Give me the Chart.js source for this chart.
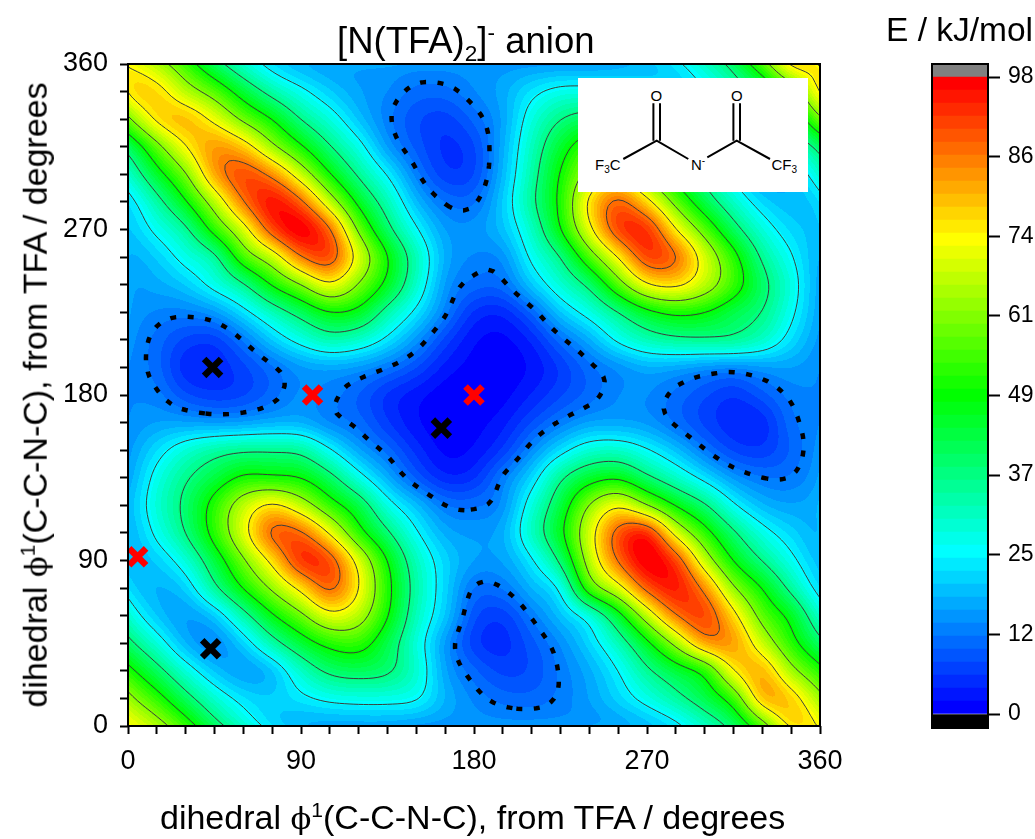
<!DOCTYPE html>
<html>
<head>
<meta charset="utf-8">
<title>[N(TFA)2]- anion</title>
<script src="https://cdn.jsdelivr.net/npm/chart.js@4"></script>
<style>
	html,body{margin:0;padding:0;background:#fff;}
	#page{position:relative;width:1035px;height:839px;overflow:hidden;font-family:"Liberation Sans",Arial,sans-serif;color:#000;}
	#main-wrap{position:absolute;left:0;top:0;width:880px;height:839px;}
	#bar-wrap{position:absolute;left:880px;top:0;width:155px;height:839px;}
	.label{position:absolute;white-space:nowrap;line-height:1;}
	.label sub,.label sup{font-size:0.62em;line-height:0;}
	.phi{font-family:"DejaVu Serif",serif;font-size:0.9em;}
	#title{left:337px;top:23px;font-size:36.5px;}
	#x-title{left:160px;top:800px;font-size:34px;}
	#y-title{left:35px;top:395px;font-size:34px;transform:translate(-50%,-50%) rotate(-90deg);}
	#bar-title{left:886px;top:13px;font-size:33.5px;}
	#inset{position:absolute;left:578px;top:78px;}
</style>
</head>
<body>
<div id="page">
	<div id="main-wrap"><canvas id="field"></canvas></div>
	<div id="bar-wrap"><canvas id="scale-bar"></canvas></div>
	<div class="label" id="title">[N(TFA)<sub>2</sub>]<sup>-</sup> anion</div>
	<div class="label" id="x-title">dihedral <span class="phi">&#981;</span><sup>1</sup>(C-C-N-C), from TFA / degrees</div>
	<div class="label" id="y-title">dihedral <span class="phi">&#981;</span><sup>1</sup>(C-C-N-C), from TFA / degrees</div>
	<div class="label" id="bar-title">E / kJ/mol</div>
	<svg id="inset" width="230" height="114" font-family="Liberation Sans, Arial, sans-serif" font-size="15">
		<rect width="230" height="114" fill="#fff"/>
		<g stroke="#000" stroke-width="2" fill="none">
			<path d="M45.3 81L78.7 62.7L110.3 81M129.3 79.3L158.7 62.7L192 81"/>
			<path d="M75.4 62.7V25.3M82 62.7V25.3M155.4 62.7V25.3M162 62.7V25.3"/>
		</g>
		<text x="72.5" y="22.5">O</text>
		<text x="153" y="22.5">O</text>
		<text x="17" y="92">F<tspan font-size="10" dy="3">3</tspan><tspan dy="-3">C</tspan></text>
		<text x="113" y="92">N<tspan font-size="10" dy="-6">-</tspan></text>
		<text x="193.5" y="92">CF<tspan font-size="10" dy="3">3</tspan></text>
	</svg>
</div>

<script>
//axis values
const phiValues = [0,15,30,45,60,75,90,105,120,135,150,165,180,195,210,225,240,255,270,285,300,315,330,345,360];
const phiLabels = [0,90,180,270,360];

//energies, one array per row of phi (y), along phi (x) from 0 to 360
const e360 = [76,69,55,42,31,22,18,16,15,15,15,14,15,15,15,15,15,16,18,22,30,40,55,78,76];
const e345 = [77,78,66,57,44,33,26,20,16,14,11,11,14,17,23,27,27,26,23,20,23,31,39,53,77];
const e330 = [60,77,81,72,59,49,36,28,19,12.5,8,6.5,10.5,16,28,37,41,39,30,18,15,18,27,39,60];
const e315 = [39,58,74,84,79,63,50,37,27,15,9,5,7,17,31,45,56,54,45,33,20,13,17,28,39];
const e300 = [29,45,60,83,92,85,68,49,35,24,12.5,6,7,18,33,50,65,72,58,44,33,22,15,18,29];
const e285 = [21,33,48,66,87,98,89,67,46,32,18,11.5,11,20,35,51,77,90,77,58,42,30,21,18,21];
const e270 = [19,26,34,53,69,92,101,89,59,39,25,15.5,15,19,30,49,72,93,95,74,57,40,28,21,19];
const e255 = [17,20,27,33,56,67,87,93,71,50,32,17,13.5,14,26,36,56,74,93,89,70,53,35,25,17];
const e240 = [16,17,20,27,35,50,61,74,61,47,30,15,11,11,20,29,38,57,74,77,68,55,40,28,16];
const e225 = [16,13.5,13,15,22,31,40,49,47,33,23,13,5,4,10,20,27,36,46,51,49,42,37,26,16];
const e210 = [15,11,7,6,12,20,27,33,30,23,15,7,2,1,4,11,17,26,32,35,36,36,31,22,15];
const e195 = [14,11,4,4,7,11,15,16,15,12,8,3,1,0.5,2,6,11,14,17,16,14,13,15,16,14];
const e180 = [14,13,8,6,7,10.5,14.5,13,9.5,5,2.5,0.5,0.3,1,4,7.5,10.5,14,14,11,8,5.5,9,13,14];
const e165 = [14,16,16,15,15.5,17,17,13,11,6,2,0.5,1,3,8,12.5,16,16,15,11,7,4,4,11.5,14];
const e150 = [15,22,29,34,36,36,35,25,16,11,5,1,2,6,14,22,29,30,25,19,12,7,6,10,15];
const e135 = [16,27,36,43,51,50,49,40,27,17,9,4,5,13,21,36,45,48,38,30,22,15,12,12,16];
const e120 = [18,29,39,53,68,77,67,53,43,27,19,12,11.5,14,28,43,63,74,61,48,38,25,18,16,18];
const e105 = [17,26,37,53,71,90,89,73,52,38,25,17,15.5,17,31,47,70,91,97,70,53,38,27,21,17];
const e90 = [18,20,28,43,60,76,95,92,71,49,31,21,16,16,23,38,67,88,101,93,67,48,36,26,18];
const e75 = [21,17,20,35,50,63,76,90,75,52,33,21,11,12,18,24,57,70,90,97,85,62,49,34,22];
const e60 = [29,19,15,19,33,48,59,72,67,50,31,20,8,6,12.5,19,26,44,67,87,93,77,57,47,29];
const e45 = [39,28,17,13,20,33,44,52,54,42,28,15,6,4.5,9,14,21,31,46,64,84,84,68,52,38];
const e30 = [52,40,28,19,15,18,30,39,41,39,30,16,10.5,7,8,12.5,17,24,35,43,50,75,82,64,52];
const e15 = [64,53,40,29,22,20,23,26,27,27,26,18,13.5,11,10.5,12.5,16,21,27,34,42,53,82,79,64];
const e0 = [74,66,54,40,29,21,17,16,16,16,15,15,15,15,15,15,15,16,18,22,30,39,56,78,74];
const energyRows = [e0,e15,e30,e45,e60,e75,e90,e105,e120,e135,e150,e165,e180,e195,e210,e225,e240,e255,e270,e285,e300,e315,e330,e345,e360];

//minima and transition points marked on the map
const blackCrossX = [44,163,43];
const blackCrossY = [195,162,42];
const redCrossX = [96,180,5];
const redCrossY = [180,180,92];

//contour levels and colour scale
const solidLevels = [24.5,36.75,49,61.25,73.5,85.75];
const dashedLevels = [12.25];
const scaleTicks = [0,12.25,24.5,36.75,49,61.25,73.5,85.75,98];
const bandWidth = 2;
const bandCount = 49;

//blue-cyan-green-yellow-red, t goes from 0 to 1
function rampColor(t){
	const stops = [[0,0,255],[0,255,255],[0,255,0],[255,255,0],[255,0,0]];
	const p = Math.min(t,1)*4;
	const i = Math.min(Math.floor(p),3);
	const f = p-i;
	return stops[i].map(function(c,k){
		return Math.round(c+(stops[i+1][k]-c)*f);
	});
}
const bandColors = [];
for(let i=0 ; i<bandCount ; i++){
	bandColors.push(rampColor(i/(bandCount-1)));
}

//smooth reading of the energy table between its nodes, the map wraps at 360
//half catmull-rom, half b-spline, the table is read by eye so the pure curve wobbles
function weights(t){
	const t2 = t*t, t3 = t2*t;
	const cr = [0.5*(-t+2*t2-t3),0.5*(2-5*t2+3*t3),0.5*(t+4*t2-3*t3),0.5*(t3-t2)];
	const bs = [(1-3*t+3*t2-t3)/6,(4-6*t2+3*t3)/6,(1+3*t+3*t2-3*t3)/6,t3/6];
	return cr.map(function(c,i){
		return 0.5*c+0.5*bs[i];
	});
}
function energyAt(phiX,phiY){
	const step = phiValues[1]-phiValues[0];
	const n = phiValues.length-1;
	const gx = phiX/step, gy = phiY/step;
	const ix = Math.min(Math.floor(gx),n-1), iy = Math.min(Math.floor(gy),n-1);
	const wx = weights(gx-ix), wy = weights(gy-iy);
	let sum = 0;
	for(let r=0 ; r<4 ; r++){
		const row = energyRows[(iy+r-1+n)%n];
		for(let c=0 ; c<4 ; c++){
			sum += wy[r]*wx[c]*row[(ix+c-1+n)%n];
		}
	}
	return sum;
}

//walks one level over a fine mesh and joins the crossings into polylines
function traceLevel(level,meshStep){
	const m = Math.round(360/meshStep);
	const vals = [];
	for(let j=0 ; j<=m ; j++){
		vals.push([]);
		for(let i=0 ; i<=m ; i++){
			vals[j].push(energyAt(i*meshStep,j*meshStep));
		}
	}
	const points = {};
	const links = {};
	function crossing(i,j,horizontal){
		const key = (horizontal?'h':'v')+i+'_'+j;
		if(!points[key]){
			const a = vals[j][i];
			const b = horizontal ? vals[j][i+1] : vals[j+1][i];
			const f = (level-a)/(b-a);
			points[key] = horizontal ? [(i+f)*meshStep,j*meshStep] : [i*meshStep,(j+f)*meshStep];
			links[key] = [];
		}
		return key;
	}
	for(let j=0 ; j<m ; j++){
		for(let i=0 ; i<m ; i++){
			const hits = [];
			if((vals[j][i]<level)!=(vals[j][i+1]<level)) hits.push(crossing(i,j,true));
			if((vals[j][i+1]<level)!=(vals[j+1][i+1]<level)) hits.push(crossing(i+1,j,false));
			if((vals[j+1][i]<level)!=(vals[j+1][i+1]<level)) hits.push(crossing(i,j+1,true));
			if((vals[j][i]<level)!=(vals[j+1][i]<level)) hits.push(crossing(i,j,false));
			for(let k=0 ; k+1<hits.length ; k+=2){
				links[hits[k]].push(hits[k+1]);
				links[hits[k+1]].push(hits[k]);
			}
		}
	}
	const used = {};
	const lines = [];
	//open ends first so a line that leaves the map stays in one piece
	const keys = Object.keys(links).sort(function(a,b){return links[a].length-links[b].length;});
	keys.forEach(function(start){
		if(used[start]) return;
		const line = [];
		let cur = start, last = start;
		while(cur){
			used[cur] = true;
			line.push(points[cur]);
			last = cur;
			cur = links[cur].find(function(k){return !used[k];});
		}
		//closes the loop
		if(line.length>2 && links[last].indexOf(start)>-1){
			line.push(points[start]);
		}
		lines.push(line);
	});
	return lines;
}

function strokeLines(ctx,chart,lines){
	const sx = chart.scales.x, sy = chart.scales.y;
	lines.forEach(function(line){
		ctx.beginPath();
		line.forEach(function(p,i){
			const px = sx.getPixelForValue(p[0]), py = sy.getPixelForValue(p[1]);
			if(i==0){
				ctx.moveTo(px,py);
			}else{
				ctx.lineTo(px,py);
			}
		});
		ctx.stroke();
	});
}

//paints the energy bands and contour lines under the crosses
const contourPlugin = {
	id:'contourPlugin',
	beforeDatasetsDraw:function(chart){
		const ctx = chart.ctx;
		const area = chart.chartArea;
		const sx = chart.scales.x, sy = chart.scales.y;
		const w = Math.round(area.right-area.left), h = Math.round(area.bottom-area.top);
		const img = ctx.createImageData(w,h);
		for(let j=0 ; j<h ; j++){
			const phiY = sy.getValueForPixel(area.top+j+0.5);
			for(let i=0 ; i<w ; i++){
				const phiX = sx.getValueForPixel(area.left+i+0.5);
				const band = Math.max(0,Math.min(bandCount-1,Math.floor(energyAt(phiX,phiY)/bandWidth)));
				const c = bandColors[band];
				const o = (j*w+i)*4;
				img.data[o] = c[0];
				img.data[o+1] = c[1];
				img.data[o+2] = c[2];
				img.data[o+3] = 255;
			}
		}
		ctx.putImageData(img,area.left,area.top);

		ctx.save();
		ctx.beginPath();
		ctx.rect(area.left,area.top,w,h);
		ctx.clip();
		ctx.strokeStyle = '#3c3c3c';
		ctx.lineWidth = 1;
		solidLevels.forEach(function(level){
			strokeLines(ctx,chart,traceLevel(level,2.5));
		});
		ctx.strokeStyle = '#000';
		ctx.lineWidth = 4.5;
		ctx.setLineDash([6,11.5]);
		dashedLevels.forEach(function(level){
			strokeLines(ctx,chart,traceLevel(level,2.5));
		});
		ctx.restore();
	}
};

//black box round the plot area of either chart
const framePlugin = {
	id:'framePlugin',
	afterDatasetsDraw:function(chart){
		const ctx = chart.ctx;
		const area = chart.chartArea;
		ctx.save();
		ctx.strokeStyle = '#000';
		ctx.lineWidth = 2;
		ctx.strokeRect(area.left,area.top,area.right-area.left,area.bottom-area.top);
		ctx.restore();
	}
};

Chart.defaults.font.family = '"Liberation Sans", Arial, sans-serif';
Chart.defaults.color = '#000';
Chart.defaults.animation = false;

function crossPoints(xs,ys){
	return xs.map(function(x,i){
		return {x:x,y:ys[i]};
	});
}

function phiAxis(side){
	return {
		type:'linear',
		position:side,
		min:0,
		max:360,
		border:{display:false},
		grid:{drawOnChartArea:false,tickLength:8,tickWidth:2,tickColor:'#000'},
		ticks:{
			stepSize:15,
			autoSkip:false,
			maxRotation:0,
			padding:side=='left' ? 12 : 11,
			font:{size:27},
			callback:function(value){
				return phiLabels.indexOf(value)>-1 ? value : '';
			}
		}
	};
}

const fieldAxisX = phiAxis('bottom');
fieldAxisX.afterFit = function(scale){scale.height = 113;};
const fieldAxisY = phiAxis('left');
fieldAxisY.afterFit = function(scale){scale.width = 128;};

const fieldChart = new Chart(document.getElementById('field'),{
	type:'scatter',
	data:{
		datasets:[{
			data:crossPoints(blackCrossX,blackCrossY),
			pointStyle:'crossRot',
			pointRadius:12,
			pointBorderWidth:6.5,
			pointBorderColor:'#000',
			clip:false
		},{
			data:crossPoints(redCrossX,redCrossY),
			pointStyle:'crossRot',
			pointRadius:12,
			pointBorderWidth:6.5,
			pointBorderColor:'#f00',
			clip:false
		}]
	},
	options:{
		responsive:true,
		maintainAspectRatio:false,
		layout:{padding:{top:64,right:60,left:0,bottom:0}},
		plugins:{legend:{display:false},tooltip:{enabled:false}},
		scales:{x:fieldAxisX,y:fieldAxisY}
	},
	plugins:[contourPlugin,framePlugin]
});

//colour bar: one floating bar per band, black below the range and grey above it
const barDatasets = [{data:[[-2.15,0]],backgroundColor:'#000'}];
bandColors.forEach(function(c,i){
	barDatasets.push({
		data:[[i*bandWidth,(i+1)*bandWidth]],
		backgroundColor:'rgb('+c.join(',')+')'
	});
});
barDatasets.push({data:[[bandCount*bandWidth,100]],backgroundColor:'#808080'});

const barChart = new Chart(document.getElementById('scale-bar'),{
	type:'bar',
	data:{
		labels:[''],
		datasets:barDatasets
	},
	options:{
		responsive:true,
		maintainAspectRatio:false,
		layout:{padding:{top:64,left:52,right:0,bottom:111}},
		datasets:{bar:{grouped:false,barPercentage:1,categoryPercentage:1,borderWidth:0}},
		plugins:{legend:{display:false},tooltip:{enabled:false}},
		scales:{
			x:{display:false},
			y:{
				position:'right',
				min:-2.15,
				max:100,
				border:{display:false},
				grid:{drawOnChartArea:false,tickLength:12,tickWidth:2,tickColor:'#000'},
				afterBuildTicks:function(scale){
					scale.ticks = scaleTicks.map(function(v){
						return {value:v};
					});
				},
				afterFit:function(scale){scale.width = 47;},
				ticks:{
					padding:8,
					font:{size:23},
					callback:function(value){
						return Math.round(value);
					}
				}
			}
		}
	},
	plugins:[framePlugin]
});
</script>
</body>
</html>
